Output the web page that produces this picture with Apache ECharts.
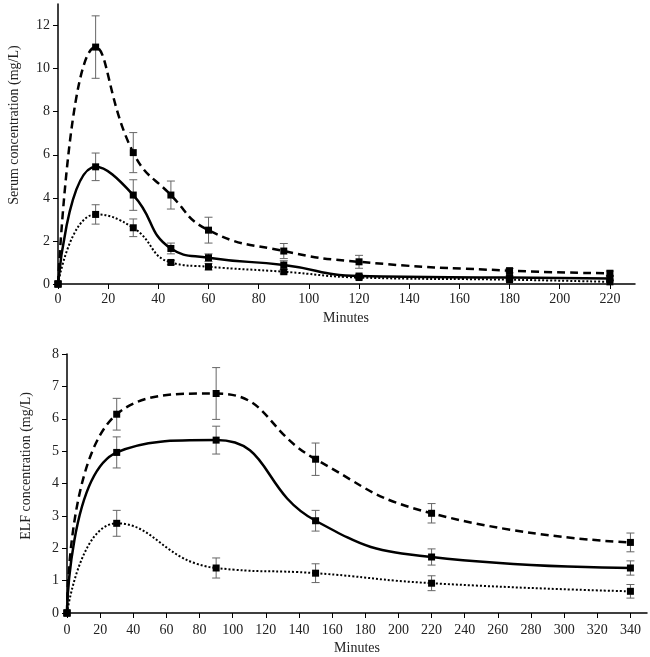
<!DOCTYPE html>
<html>
<head>
<meta charset="utf-8">
<script src="https://cdn.jsdelivr.net/npm/echarts@6/dist/echarts.min.js"></script>
<style>html,body{margin:0;padding:0;background:#fff;}#c{width:650px;height:657px;}</style>
</head>
<body>
<div id="c"></div>
<script>
// ---- Top panel: serum ----
const serumTimes = [0, 15, 30, 45, 60, 90, 120, 180, 220];
const serumHigh = [0, 11.0, 6.1, 4.13, 2.5, 1.53, 1.03, 0.62, 0.5];
const serumHighSD = [0, 1.45, 0.93, 0.65, 0.6, 0.35, 0.3, 0.1, 0.1];
const serumMid = [0, 5.44, 4.13, 1.65, 1.22, 0.88, 0.37, 0.3, 0.26];
const serumMidSD = [0, 0.64, 0.71, 0.25, 0.18, 0.2, 0.08, 0.08, 0.08];
const serumLow = [0, 3.23, 2.61, 1.0, 0.8, 0.57, 0.3, 0.2, 0.1];
const serumLowSD = [0, 0.45, 0.41, 0.1, 0.15, 0.1, 0.06, 0.06, 0.06];
const serumXTicks = [0, 20, 40, 60, 80, 100, 120, 140, 160, 180, 200, 220];
const serumYTicks = [0, 2, 4, 6, 8, 10, 12];

// ---- Bottom panel: ELF ----
const elfTimes = [0, 30, 90, 150, 220, 340];
const elfHigh = [0, 6.14, 6.78, 4.75, 3.08, 2.18];
const elfHighSD = [0, 0.49, 0.8, 0.5, 0.3, 0.29];
const elfMid = [0, 4.96, 5.34, 2.85, 1.73, 1.39];
const elfMidSD = [0, 0.48, 0.43, 0.32, 0.25, 0.22];
const elfLow = [0, 2.77, 1.39, 1.23, 0.92, 0.67];
const elfLowSD = [0, 0.4, 0.31, 0.29, 0.23, 0.21];
const elfXTicks = [0, 20, 40, 60, 80, 100, 120, 140, 160, 180, 200, 220, 240, 260, 280, 300, 320, 340];
const elfYTicks = [0, 1, 2, 3, 4, 5, 6, 7, 8];

const FONT = 'Liberation Serif';
const pairs = (xs, ys) => xs.map((x, i) => [x, ys[i]]);
const errs = (xs, ys, sd) => xs.map((x, i) => [x, ys[i], sd[i]]).filter(d => d[2] > 0);

function lineSeries(idx, xs, ys, type, width) {
  return {
    type: 'line', xAxisIndex: idx, yAxisIndex: idx,
    data: pairs(xs, ys), smooth: 0.5,
    symbol: 'rect', symbolSize: 7,
    itemStyle: { color: '#000' },
    lineStyle: { color: '#000', width: width, type: type },
    z: 3, animation: false
  };
}
function errSeries(idx, xs, ys, sd) {
  return {
    type: 'custom', xAxisIndex: idx, yAxisIndex: idx,
    data: errs(xs, ys, sd), z: 2, animation: false,
    renderItem: function (params, api) {
      const x = api.value(0), y = api.value(1), s = api.value(2);
      const top = api.coord([x, y + s]);
      const bot = api.coord([x, y - s]);
      const cw = 4;
      const st = { stroke: '#666', lineWidth: 1 };
      return { type: 'group', children: [
        { type: 'line', shape: { x1: top[0], y1: top[1], x2: bot[0], y2: bot[1] }, style: st },
        { type: 'line', shape: { x1: top[0] - cw, y1: top[1], x2: top[0] + cw, y2: top[1] }, style: st },
        { type: 'line', shape: { x1: bot[0] - cw, y1: bot[1], x2: bot[0] + cw, y2: bot[1] }, style: st }
      ]};
    }
  };
}
function xAxis(idx, max, ticks, margin) {
  return {
    type: 'value', gridIndex: idx, min: 0, max: max,
    axisLine: { show: true, onZero: false, lineStyle: { color: '#000', width: 1.5 } },
    axisTick: { show: true, inside: false, length: 5, customValues: ticks, lineStyle: { color: '#000', width: 1 } },
    axisLabel: { customValues: ticks, fontFamily: FONT, fontSize: 14, color: '#222', margin: margin },
    splitLine: { show: false }
  };
}
function yAxis(idx, max, ticks) {
  return {
    type: 'value', gridIndex: idx, min: 0, max: max,
    axisLine: { show: true, onZero: false, lineStyle: { color: '#000', width: 1.5 } },
    axisTick: { show: true, inside: false, length: 5, customValues: ticks, lineStyle: { color: '#000', width: 1 } },
    axisLabel: { customValues: ticks, fontFamily: FONT, fontSize: 14, color: '#222', margin: 8 },
    splitLine: { show: false }
  };
}

const chart = echarts.init(document.getElementById('c'), null, { renderer: 'canvas' });
chart.setOption({
  backgroundColor: '#fff',
  animation: false,
  grid: [
    { left: 58, top: 4, width: 577, height: 280 },
    { left: 67, top: 354, width: 580, height: 259 }
  ],
  xAxis: [xAxis(0, 230, serumXTicks, 8), xAxis(1, 350, elfXTicks, 10)],
  yAxis: [yAxis(0, 13, serumYTicks), yAxis(1, 8, elfYTicks)],
  graphic: [
    { type: 'text', x: 346, y: 318, style: { text: 'Minutes', fontFamily: FONT, fontSize: 14, fill: '#222', align: 'center', verticalAlign: 'middle' } },
    { type: 'text', x: 357, y: 648, style: { text: 'Minutes', fontFamily: FONT, fontSize: 14, fill: '#222', align: 'center', verticalAlign: 'middle' } },
    { type: 'text', x: 14, y: 125, rotation: Math.PI / 2, style: { text: 'Serum concentration (mg/L)', fontFamily: FONT, fontSize: 14, fill: '#222', align: 'center', verticalAlign: 'middle' } },
    { type: 'text', x: 26, y: 466, rotation: Math.PI / 2, style: { text: 'ELF concentration (mg/L)', fontFamily: FONT, fontSize: 14, fill: '#222', align: 'center', verticalAlign: 'middle' } }
  ],
  series: [
    errSeries(0, serumTimes, serumHigh, serumHighSD),
    errSeries(0, serumTimes, serumMid, serumMidSD),
    errSeries(0, serumTimes, serumLow, serumLowSD),
    lineSeries(0, serumTimes, serumHigh, [8, 5], 2.5),
    lineSeries(0, serumTimes, serumMid, 'solid', 2.5),
    lineSeries(0, serumTimes, serumLow, [2, 2], 2),
    errSeries(1, elfTimes, elfHigh, elfHighSD),
    errSeries(1, elfTimes, elfMid, elfMidSD),
    errSeries(1, elfTimes, elfLow, elfLowSD),
    lineSeries(1, elfTimes, elfHigh, [8, 5], 2.5),
    lineSeries(1, elfTimes, elfMid, 'solid', 2.5),
    lineSeries(1, elfTimes, elfLow, [2, 2], 2)
  ]
});
</script>
</body>
</html>
